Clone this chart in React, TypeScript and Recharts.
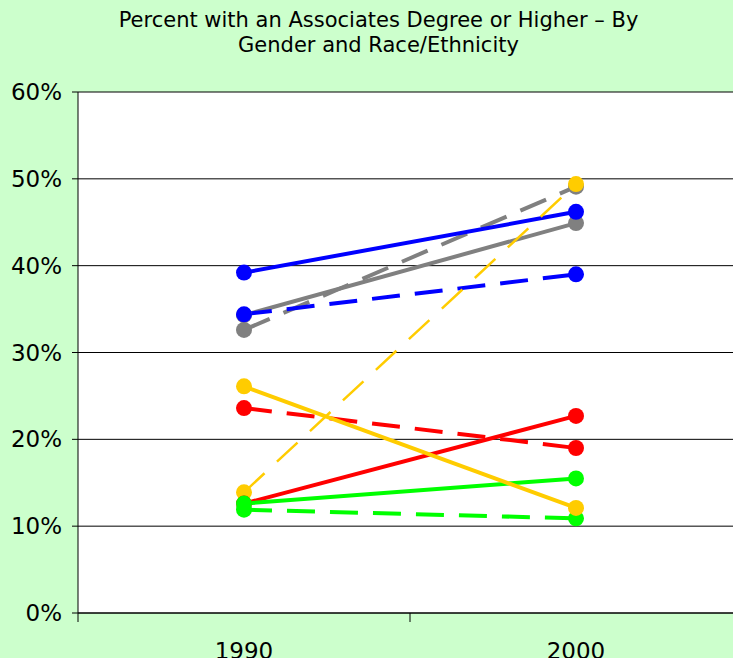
import React from 'react'
import { LineChart, Line, XAxis, YAxis, CartesianGrid } from 'recharts';

const years = ['1990', '2000']
const yTicks = [0, 10, 20, 30, 40, 50, 60]

// percent values, read per year
const graySolid = [34.3, 44.9]
const grayDashed = [32.6, 49.1]
const blueSolid = [39.2, 46.2]
const blueDashed = [34.4, 39.0]
const goldDashed = [13.9, 49.4]
const redDashed = [23.6, 19.0]
const redSolid = [12.6, 22.7]
const greenSolid = [12.6, 15.5]
const greenDashed = [11.9, 10.9]
const goldSolid = [26.1, 12.1]

type SeriesDef = { key: string; values: number[]; color: string; dash?: string; width: number }

const series: SeriesDef[] = [
  { key: 'graySolid', values: graySolid, color: '#808080', width: 4 },
  { key: 'grayDashed', values: grayDashed, color: '#808080', dash: '28 15', width: 4 },
  { key: 'blueSolid', values: blueSolid, color: '#0000FF', width: 4 },
  { key: 'blueDashed', values: blueDashed, color: '#0000FF', dash: '28 15', width: 4 },
  { key: 'goldDashed', values: goldDashed, color: '#FFCC00', dash: '28 17', width: 2.5 },
  { key: 'redDashed', values: redDashed, color: '#FF0000', dash: '28 15', width: 4 },
  { key: 'redSolid', values: redSolid, color: '#FF0000', width: 4 },
  { key: 'greenSolid', values: greenSolid, color: '#00FF00', width: 4 },
  { key: 'greenDashed', values: greenDashed, color: '#00FF00', dash: '28 15', width: 4 },
  { key: 'goldSolid', values: goldSolid, color: '#FFCC00', width: 4 },
]

// categories sit in the middle of each band (0.5, 1.5 ...)
const data = years.map((year, i) => {
  const row: any = { pos: i + 0.5, year }
  series.forEach((s) => { row[s.key] = s.values[i] })
  return row
})

const xTicks: number[] = []
for (let i = 0; i <= years.length * 2; i++) xTicks.push(i / 2)

const XTick = (props: any) => {
  const { x, y, payload } = props
  const v = payload.value
  if (Number.isInteger(v)) {
    return <line x1={x} y1={y} x2={x} y2={y + 9} stroke="#000" strokeWidth={1} />
  }
  return (
    <text x={x} y={y + 46} textAnchor="middle" fontSize={23} fill="#000" fontFamily="Verdana, 'DejaVu Sans', sans-serif">
      {years[Math.floor(v)]}
    </text>
  )
}

const App = () => {
  return (
    <div style={{ position: 'absolute', left: 0, top: 0, width: 733, height: 658, overflow: 'hidden', background: '#CCFFCC', fontFamily: "Verdana, 'DejaVu Sans', sans-serif" }}>
      <div style={{ position: 'absolute', top: 8, left: 12, width: 733, textAlign: 'center', fontSize: 21, lineHeight: '25px', color: '#000' }}>
        Percent with an Associates Degree or Higher – By<br />Gender and Race/Ethnicity
      </div>
      <LineChart
        width={760}
        height={658}
        data={data}
        margin={{ top: 92, right: 18, left: 0, bottom: 0 }}
      >
        <CartesianGrid vertical={false} stroke="#000" fill="#fff" strokeOpacity={1} />
        <XAxis
          dataKey="pos"
          type="number"
          domain={[0, years.length]}
          ticks={xTicks}
          interval={0}
          tickSize={0}
          tickMargin={0}
          height={45}
          axisLine={{ stroke: '#000' }}
          tick={<XTick />}
        />
        <YAxis
          domain={[0, 60]}
          ticks={yTicks}
          width={78}
          tickSize={6}
          tickMargin={10}
          tickFormatter={(v: number) => `${v}%`}
          tick={{ fontSize: 23, fill: '#000' }}
          axisLine={{ stroke: '#000' }}
          tickLine={{ stroke: '#000' }}
        />
        {series.map((s) => (
          <Line
            key={s.key}
            dataKey={s.key}
            type="linear"
            stroke={s.color}
            strokeWidth={s.width}
            strokeDasharray={s.dash}
            dot={{ r: 8, fill: s.color, stroke: 'none', strokeDasharray: undefined }}
            isAnimationActive={false}
          />
        ))}
      </LineChart>
    </div>
  )
}

export default App
